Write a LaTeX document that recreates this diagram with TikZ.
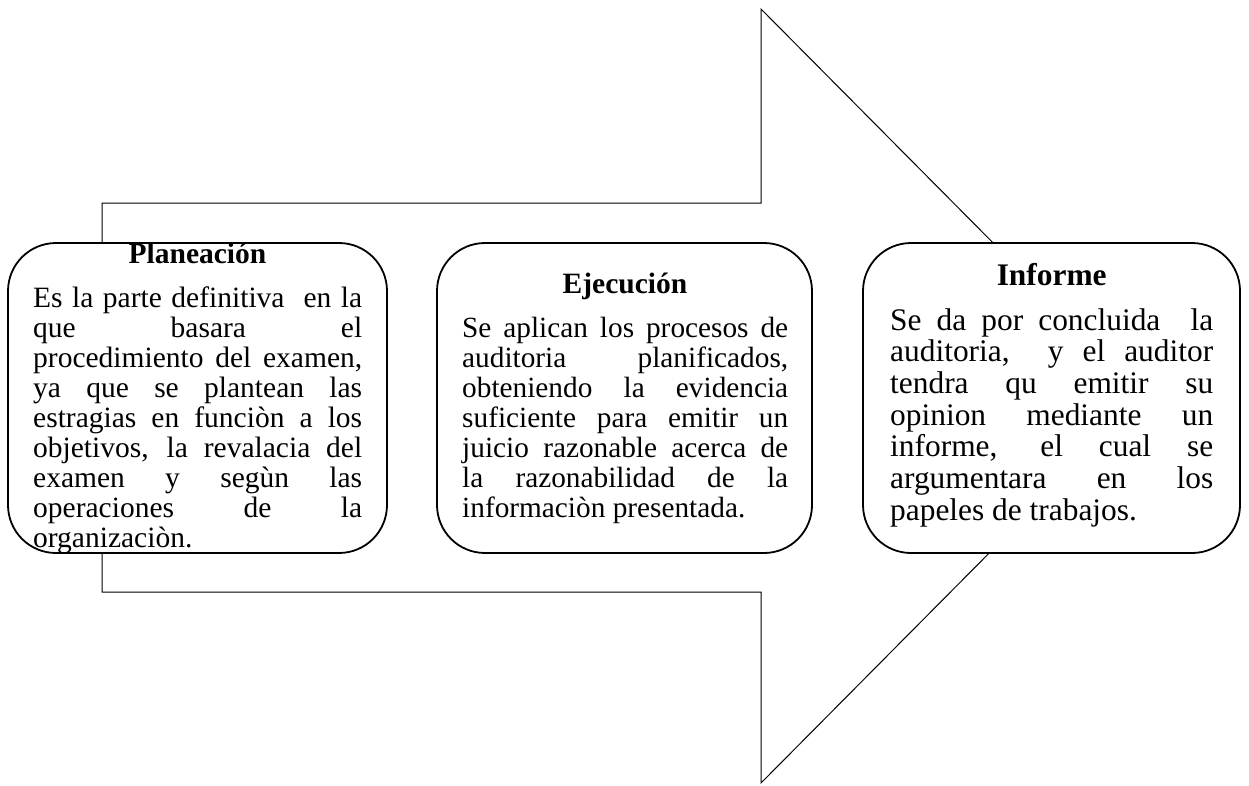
\documentclass[tikz,border=0pt]{standalone}
\usepackage{fontspec}
\setmainfont{Liberation Serif}
\newcommand{\jline}[1]{\makebox[\linewidth][s]{#1}\\}
\begin{document}
\begin{tikzpicture}[x=1pt,y=-1pt,
  box/.style={draw, line width=1.8pt, fill=white, rounded corners=48pt, minimum width=#1, minimum height=310pt, inner sep=0pt},
  ttl/.style={anchor=base, inner sep=0pt, font=\fontsize{29.5}{30}\selectfont\bfseries},
  ttlbig/.style={anchor=base, inner sep=0pt, font=\fontsize{31.4}{31.7}\selectfont\bfseries},
  body/.style={anchor=base west, inner sep=0pt},
  arrowshape/.style={draw, line width=1pt, line join=miter}]
\useasboundingbox (0,0) rectangle (1249,785);
% big arrow
\draw[arrowshape] (102,203) -- (761,203) -- (761,9) -- (1145,396) -- (761,783) -- (761,592) -- (102,592) -- cycle;
% boxes
\node[box=379pt] (plan) at (197.5,398) {};
\node[box=375pt] (ejec) at (624.5,398) {};
\node[box=377pt] (inf) at (1051.5,398) {};
% titles
\node[ttl] (plant) at (197.5,263) {Planeación};
\node[ttl] (eject) at (625,293) {Ejecución};
\node[ttlbig] (inft) at (1051.7,285) {Informe};
% bodies
\node[body] (planb) at (33,307) {\parbox[t]{329pt}{\fontsize{29.5}{30.1}\selectfont
\jline{Es la parte definitiva\ \ en la}
\jline{que basara el}
\jline{procedimiento del examen,}
\jline{ya que se plantean las}
\jline{estragias en funciòn a los}
\jline{objetivos, la revalacia del}
\jline{examen y segùn las}
\jline{operaciones de la}
organizaciòn.}};
\node[body] (ejecb) at (462,337) {\parbox[t]{326pt}{\fontsize{29.3}{30.1}\selectfont
\jline{Se aplican los procesos de}
\jline{auditoria planificados,}
\jline{obteniendo la evidencia}
\jline{suficiente para emitir un}
\jline{juicio razonable acerca de}
\jline{la razonabilidad de la}
informaciòn presentada.}};
\node[body] (infb) at (890,330) {\parbox[t]{323pt}{\fontsize{31.4}{31.7}\selectfont
\jline{Se da por concluida\ \ la}
\jline{auditoria,\ \ y el auditor}
\jline{tendra qu emitir su}
\jline{opinion mediante un}
\jline{informe, el cual se}
\jline{argumentara en los}
papeles de trabajos.}};
\end{tikzpicture}
\end{document}
